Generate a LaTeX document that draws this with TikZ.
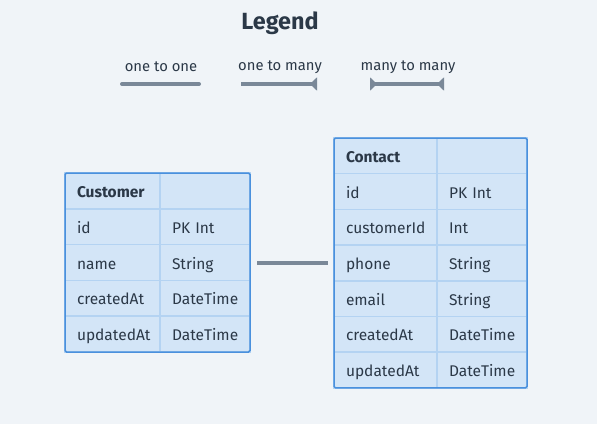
\documentclass[tikz,border=0pt]{standalone}
\usepackage{fontspec}
\setmainfont{Fira Sans}
\usepackage{tikz}
\usetikzlibrary{arrows.meta,positioning}
\definecolor{bgcol}{HTML}{F0F4F8}
\definecolor{cellfill}{HTML}{D3E5F7}
\definecolor{cellline}{HTML}{B4D3F2}
\definecolor{tableline}{HTML}{4A90DD}
\definecolor{relline}{HTML}{7A8898}
\definecolor{txt}{HTML}{2B3847}
\tikzstyle{cell} = [rectangle, draw=cellline, fill=cellfill, line width=1.5pt, inner xsep=12pt, inner ysep=0pt, outer sep=0pt, align=left, text=txt, font=\fontsize{15.5}{18}\selectfont, text height=13pt, text depth=0pt, minimum height=35.8pt, anchor=north west]
\tikzstyle{fieldcust} = [cell, text width=71pt]
\tikzstyle{typecust} = [cell, text width=66pt]
\tikzstyle{fieldcont} = [cell, text width=79pt, minimum height=35.7pt]
\tikzstyle{typecont} = [cell, text width=66pt, minimum height=35.7pt]
\tikzstyle{frame} = [draw=tableline, line width=1.5pt, rounded corners=1.5pt]
\tikzstyle{rel} = [draw=relline, line width=4pt]
\tikzstyle{legtext} = [text=txt, font=\fontsize{14.8}{17}\selectfont]

\begin{document}
\begin{tikzpicture}[x=1pt, y=-1pt, node distance=0pt]
		\fill[bgcol] (0,0) rectangle (597,424);
		\useasboundingbox (0,0) rectangle (597,424);

		% Legend
		\node[text=txt, font=\fontsize{23.4}{26}\selectfont\bfseries] (legend) at (280,23) {Legend};
		\node[legtext] (l1) at (161,67) {one to one};
		\node[legtext] (l2) at (280,67) {one to many};
		\node[legtext] (l3) at (408,67) {many to many};
		\coordinate (l1a) at (122,84);
		\coordinate (l1b) at (199,84);
		\coordinate (l2a) at (241,84);
		\coordinate (l2b) at (317,84);
		\coordinate (l3a) at (370,84);
		\coordinate (l3b) at (444,84);
		\path [rel, line cap=round] (l1a) -- (l1b);
		\path [rel, -{Triangle[reversed, width=13pt, length=7pt]}] (l2a) -- (l2b);
		\path [rel, {Triangle[reversed, width=13pt, length=7pt]}-{Triangle[reversed, width=13pt, length=7pt]}] (l3a) -- (l3b);

		% Customer table
		\node[fieldcust, font=\fontsize{15.5}{18}\selectfont\bfseries] (cust0) at (65,173) {Customer};
		\node[typecust, right=of cust0] (cust0t) {};
		\node[fieldcust, below=of cust0] (cust1) {id};
		\node[typecust, right=of cust1] (cust1t) {PK Int};
		\node[fieldcust, below=of cust1] (cust2) {name};
		\node[typecust, right=of cust2] (cust2t) {String};
		\node[fieldcust, below=of cust2] (cust3) {createdAt};
		\node[typecust, right=of cust3] (cust3t) {DateTime};
		\node[fieldcust, below=of cust3] (cust4) {updatedAt};
		\node[typecust, right=of cust4] (cust4t) {DateTime};
		\draw[frame] (cust0.north west) rectangle (cust4t.south east);

		% Contact table
		\node[fieldcont, font=\fontsize{15.5}{18}\selectfont\bfseries] (cont0) at (334,138) {Contact};
		\node[typecont, right=of cont0] (cont0t) {};
		\node[fieldcont, below=of cont0] (cont1) {id};
		\node[typecont, right=of cont1] (cont1t) {PK Int};
		\node[fieldcont, below=of cont1] (cont2) {customerId};
		\node[typecont, right=of cont2] (cont2t) {Int};
		\node[fieldcont, below=of cont2] (cont3) {phone};
		\node[typecont, right=of cont3] (cont3t) {String};
		\node[fieldcont, below=of cont3] (cont4) {email};
		\node[typecont, right=of cont4] (cont4t) {String};
		\node[fieldcont, below=of cont4] (cont5) {createdAt};
		\node[typecont, right=of cont5] (cont5t) {DateTime};
		\node[fieldcont, below=of cont5] (cont6) {updatedAt};
		\node[typecont, right=of cont6] (cont6t) {DateTime};
		\draw[frame] (cont0.north west) rectangle (cont6t.south east);

		% Relation
		\path [rel, shorten <=7pt, shorten >=6pt] (cust2t.east) -- (cust2t.east -| cont3.west);

	\end{tikzpicture}
\end{document}
